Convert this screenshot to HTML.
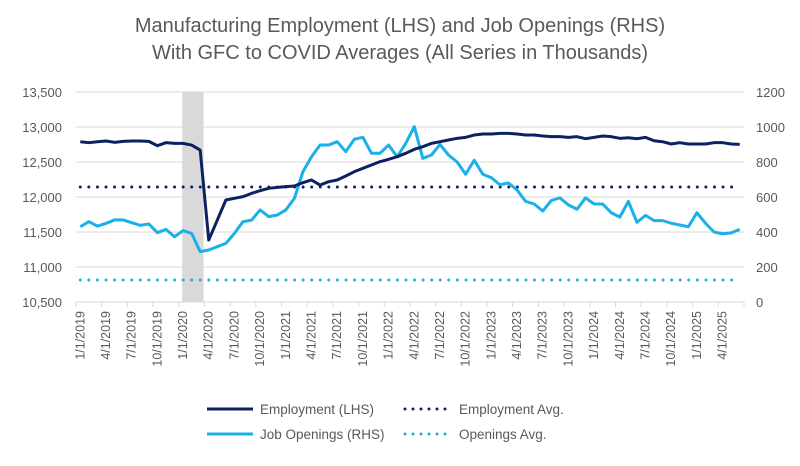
<!DOCTYPE html>
<html><head><meta charset="utf-8"><style>
body{margin:0;background:#fff;font-family:"Liberation Sans",sans-serif;}
svg text{font-family:"Liberation Sans",sans-serif;fill:#595959;}
</style></head><body>
<svg id="chart" width="800" height="461" xmlns="http://www.w3.org/2000/svg">
<text x="400" y="32" font-size="20" text-anchor="middle">Manufacturing Employment (LHS) and Job Openings (RHS)</text>
<text x="400" y="59" font-size="20" text-anchor="middle">With GFC to COVID Averages (All Series in Thousands)</text>
<g id="grid"></g>
<g id="shade"></g>
<g id="series"></g>
<g id="axes"></g>
<g font-size="13">
<line x1="207" y1="409" x2="253" y2="409" stroke="#0b2161" stroke-width="3"/>
<text x="260" y="414" font-size="13.5">Employment (LHS)</text>
<line x1="405" y1="409" x2="447" y2="409" stroke="#0b2161" stroke-width="3" stroke-dasharray="0 8" stroke-linecap="round"/>
<text x="459" y="414" font-size="13.5">Employment Avg.</text>
<line x1="207" y1="434" x2="253" y2="434" stroke="#1ab0e8" stroke-width="3"/>
<text x="260" y="439" font-size="13.5">Job Openings (RHS)</text>
<line x1="405" y1="434" x2="447" y2="434" stroke="#1ab0e8" stroke-width="3" stroke-dasharray="0 8" stroke-linecap="round"/>
<text x="459" y="439" font-size="13.5">Openings Avg.</text>
</g>
</svg>
<script>
const employment = [12790,12776,12790,12800,12781,12795,12800,12800,12795,12733,12776,12766,12766,12742,12671,11385,11671,11957,11981,12005,12052,12090,12124,12138,12148,12157,12205,12243,12171,12219,12243,12300,12362,12410,12457,12505,12538,12576,12624,12681,12719,12766,12790,12814,12838,12852,12885,12900,12900,12909,12909,12900,12885,12885,12871,12862,12862,12852,12862,12833,12852,12871,12862,12838,12847,12833,12852,12804,12790,12757,12776,12757,12757,12757,12776,12776,12757,12752];
const openings = [430,459,434,449,469,469,453,438,446,396,415,373,408,392,288,297,316,335,392,459,468,526,488,497,526,592,745,830,897,897,916,859,930,941,850,850,897,830,906,1002,821,840,900,840,800,730,810,730,710,670,680,640,575,560,520,580,595,555,530,595,560,560,510,485,575,455,495,465,465,450,440,430,510,450,400,390,395,415];
const employmentAvg = [12143];
const openingsAvg = [126];
const leftTicks = [10500,11000,11500,12000,12500,13000,13500];
const rightTicks = [0,200,400,600,800,1000,1200];
const shadeRange = [12.4, 14.9];
const startYear = 2019;

const NS="http://www.w3.org/2000/svg";
const X0=76, X1=744, YT=92, YB=302;
const n=employment.length, step=(X1-X0)/n;
const xc=i=>X0+step*(i+0.5);
const yL=v=>YB-(v-10500)/(13500-10500)*(YB-YT);
const yR=v=>YB-v/1200*(YB-YT);
function mk(tag,attrs,parent){const e=document.createElementNS(NS,tag);for(const k in attrs)e.setAttribute(k,attrs[k]);parent.appendChild(e);return e;}
const grid=document.getElementById('grid'),axes=document.getElementById('axes'),ser=document.getElementById('series'),shade=document.getElementById('shade');
leftTicks.forEach((t,k)=>{
  const y=yL(t);
  if(k>0){const g=mk('line',{x1:X0,x2:X1,y1:y,y2:y,stroke:'#d9d9d9','stroke-width':1},grid);
  
  }
  const tx=mk('text',{x:62,y:y+5,'font-size':13,'text-anchor':'end'},axes);tx.textContent=t.toLocaleString('en-US');
  
  
});
rightTicks.forEach(t=>{
  const y=yR(t);
  const tx=mk('text',{x:756,y:y+5,'font-size':13},axes);tx.textContent=t;
  
  
});
const base=mk('line',{x1:X0,x2:X1,y1:YB,y2:YB,stroke:'#d9d9d9','stroke-width':1},axes);


for(let i=0;i<=n;i+=3){
  const x=X0+step*i;
  const tk=mk('line',{x1:x,x2:x,y1:YB,y2:YB+5,stroke:'#d9d9d9'},axes);
  
  
}
for(let i=0;i<n;i+=3){
  const m=(i%12)+1, yr=startYear+Math.floor(i/12);
  const x=xc(i);
  const tx=mk('text',{x:0,y:0,'font-size':12.5,'text-anchor':'end',transform:`translate(${x+4},${YB+9}) rotate(-90)`},axes);
  tx.textContent=`${m}/1/${yr}`;
  
  
}
const sx0=X0+step*shadeRange[0], sx1=X0+step*shadeRange[1];
const r=mk('rect',{x:sx0,y:YT,width:sx1-sx0,height:YB-YT,fill:'#d9d9d9'},shade);


const ea=mk('line',{x1:xc(0),x2:xc(n-1),y1:yL(employmentAvg[0]),y2:yL(employmentAvg[0]),stroke:'#0b2161','stroke-width':3,'stroke-dasharray':'0 8.57','stroke-linecap':'round'},ser);


const oa=mk('line',{x1:xc(0),x2:xc(n-1),y1:yR(openingsAvg[0]),y2:yR(openingsAvg[0]),stroke:'#1ab0e8','stroke-width':3,'stroke-dasharray':'0 8.57','stroke-linecap':'round'},ser);


const op=mk('polyline',{points:openings.map((v,i)=>xc(i)+','+yR(v)).join(' '),fill:'none',stroke:'#1ab0e8','stroke-width':3,'stroke-linejoin':'round'},ser);


const em=mk('polyline',{points:employment.map((v,i)=>xc(i)+','+yL(v)).join(' '),fill:'none',stroke:'#0b2161','stroke-width':3,'stroke-linejoin':'round'},ser);


</script>
</body></html>
